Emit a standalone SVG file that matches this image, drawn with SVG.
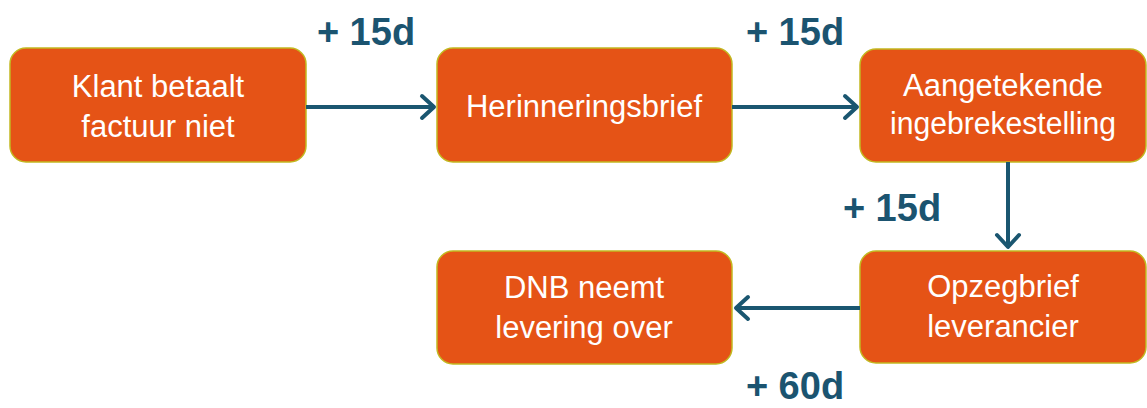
<svg xmlns="http://www.w3.org/2000/svg" width="1147" height="408" viewBox="0 0 1147 408">
<defs>
<style>
.box{fill:#E55316;stroke:#C2B820;stroke-width:1.5}
.t{font-family:"Liberation Sans",Arial,sans-serif;font-size:31px;fill:#FFFFFF;text-anchor:middle}
.lab{font-family:"Liberation Sans",Arial,sans-serif;font-size:38px;font-weight:bold;fill:#1B5470;text-anchor:middle}
.c{stroke:#1A5670;stroke-width:4;fill:none}
.h{stroke:#1A5670;stroke-width:4;fill:none;stroke-linecap:round;stroke-linejoin:round}
</style>
</defs>
<rect width="1147" height="408" fill="#FFFFFF"/>
<g id="n1"><rect class="box" x="10" y="48" width="296" height="114" rx="16"/><text class="t" x="158" y="97">Klant betaalt</text><text class="t" x="158" y="137">factuur niet</text></g>
<g id="n2"><rect class="box" x="437" y="48" width="295" height="114" rx="16"/><text class="t" x="584" y="117">Herinneringsbrief</text></g>
<g id="n3"><rect class="box" x="860" y="49" width="286" height="113" rx="16"/><text class="t" x="1003" y="96">Aangetekende</text><text class="t" x="1003" y="134" textLength="226" lengthAdjust="spacingAndGlyphs">ingebrekestelling</text></g>
<g id="n4"><rect class="box" x="437" y="251" width="295" height="113" rx="16"/><text class="t" x="584" y="298">DNB neemt</text><text class="t" x="584" y="338">levering over</text></g>
<g id="n5"><rect class="box" x="860" y="251" width="286" height="112" rx="16"/><text class="t" x="1003" y="297">Opzegbrief</text><text class="t" x="1003" y="337">leverancier</text></g>
<g id="connectors">
<line class="c" x1="306" y1="107" x2="434" y2="107"/><polyline class="h" points="422,96 434,107 422,118"/>
<line class="c" x1="732" y1="107" x2="857" y2="107"/><polyline class="h" points="845,96 857,107 845,118"/>
<line class="c" x1="1008" y1="162" x2="1008" y2="247"/><polyline class="h" points="997,235 1008,247 1019,235"/>
<line class="c" x1="860" y1="308" x2="736" y2="308"/><polyline class="h" points="748,297 736,308 748,319"/>
</g>
<g id="labels">
<text class="lab" x="366" y="45">+ 15d</text>
<text class="lab" x="795" y="45">+ 15d</text>
<text class="lab" x="892" y="221">+ 15d</text>
<text class="lab" x="795" y="399">+ 60d</text>
</g>
</svg>
